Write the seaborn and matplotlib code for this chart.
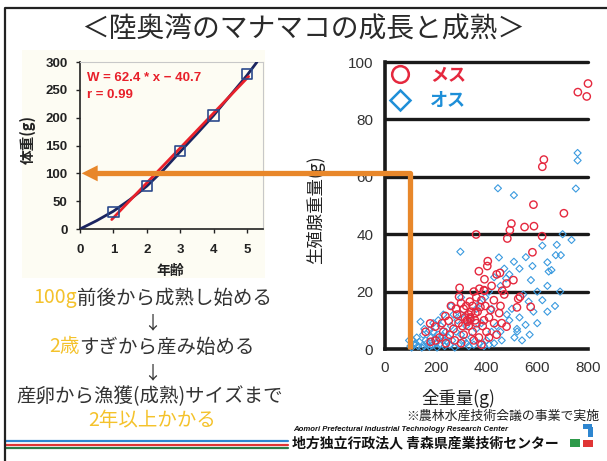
import matplotlib
matplotlib.use("Agg")
import matplotlib.pyplot as plt
import seaborn as sns
from matplotlib.lines import Line2D
from matplotlib.patches import Rectangle, Polygon

# ---- data ----
ages = [1, 2, 3, 4, 5]
mean_weight = [30, 77, 140, 204, 278]
curve_age = [0, 0.5, 1, 1.5, 2, 2.5, 3, 3.5, 4, 4.5, 5, 5.3]
curve_weight = [0, 15, 32, 53, 77, 106, 139, 171, 204, 240, 276, 300]
fit_age = [0.95, 5.05]
fit_weight = [17, 274]
age_ticks = [0, 1, 2, 3, 4, 5]
weight_ticks = [0, 50, 100, 150, 200, 250, 300]

female_x = [760, 795, 800, 626, 620, 585, 705, 498, 492, 550, 587, 482, 581, 619, 359,
            405, 403, 453, 506, 479, 392, 462, 532, 574, 429, 416, 450, 479, 400, 370,
            392, 294, 372, 390, 292, 334, 260, 310, 178, 198, 238, 251, 284, 323, 336,
            356, 376, 350, 380, 420, 440, 360, 300, 320, 340, 330, 345, 310, 360, 370,
            390, 410, 430, 290, 270, 255, 230, 215, 200, 180, 160, 240, 300, 350, 380,
            410, 330, 315, 305, 345, 365, 385, 395, 280, 275, 225, 520, 525, 470, 455,
            460, 440, 325, 335, 355]
female_y = [89.5, 88.0, 92.5, 66.0, 63.5, 50.3, 47.3, 43.7, 41.4, 42.5, 42.8, 38.5, 33.7, 39.3, 39.9,
            30.6, 28.9, 26.5, 24.0, 22.8, 20.3, 20.3, 18.2, 14.7, 17.0, 13.6, 12.5, 7.8, 6.0, 27.1,
            24.3, 21.3, 21.0, 20.5, 18.2, 16.5, 15.0, 14.0, 8.9, 7.8, 11.5, 9.8, 12.0, 10.0, 11.0,
            12.5, 14.6, 20.0, 17.0, 22.0, 26.0, 18.0, 16.0, 15.0, 13.0, 8.0, 6.0, 5.0, 9.0, 4.0,
            10.0, 11.0, 9.0, 9.0, 7.0, 5.0, 6.0, 4.0, 3.0, 2.5, 6.0, 2.0, 2.0, 3.0, 1.5,
            4.0, 12.0, 11.0, 8.0, 15.0, 13.0, 8.0, 15.0, 14.0, 3.0, 9.0, 14.5, 17.5, 19.0, 15.0,
            9.0, 5.0, 9.5, 10.5, 10.0]

male_x = [759, 759, 445, 508, 752, 677, 693, 640, 656, 581, 508, 449, 477, 566, 554,
          521, 297, 645, 673, 620, 700, 735, 690, 670, 640, 600, 570, 530, 510, 500,
          480, 460, 430, 420, 400, 380, 360, 340, 320, 300, 285, 270, 260, 250, 240,
          230, 220, 210, 200, 190, 180, 170, 160, 150, 140, 130, 120, 110, 100, 95,
          105, 115, 125, 135, 145, 155, 165, 175, 185, 195, 205, 215, 225, 235, 245,
          255, 265, 275, 290, 310, 330, 350, 370, 390, 410, 440, 455, 490, 520, 540,
          280, 260, 300, 320, 340, 360, 375, 395, 410, 430, 455, 470, 490, 420, 300,
          210, 230, 190, 175, 155, 600, 620, 585, 575, 640, 545, 555, 530]
male_y = [68.3, 65.7, 56.0, 53.6, 55.9, 36.3, 32.7, 30.2, 27.5, 28.9, 30.4, 31.9, 24.6, 16.5, 8.4,
          6.1, 33.9, 27.0, 32.7, 36.0, 40.0, 38.0, 20.0, 15.0, 13.0, 9.0, 5.0, 11.0, 4.0, 14.0,
          12.0, 3.0, 2.0, 6.0, 3.0, 9.0, 7.0, 4.0, 2.0, 5.0, 10.0, 12.0, 8.0, 4.0, 6.0,
          3.0, 8.0, 5.0, 2.0, 6.0, 4.0, 1.5, 3.0, 5.0, 9.5, 1.0, 2.0, 3.0, 1.0, 3.0,
          0.5, 1.5, 4.0, 2.5, 0.5, 1.0, 2.0, 0.8, 1.2, 3.5, 0.5, 1.5, 4.5, 1.0, 2.5,
          1.5, 3.0, 0.5, 1.5, 3.0, 1.0, 1.5, 2.0, 1.0, 1.5, 8.0, 6.0, 10.0, 7.0, 3.0,
          6.0, 15.0, 12.0, 8.0, 10.0, 14.0, 16.0, 18.0, 20.0, 25.0, 22.0, 28.0, 26.0, 14.0, 18.0,
          10.0, 12.0, 9.0, 6.5, 7.0, 20.0, 17.0, 13.0, 24.0, 22.0, 19.0, 32.0, 28.0]
gonad_ticks = [0, 20, 40, 60, 80, 100]
total_ticks = [0, 100, 200, 300, 400, 500, 600, 700, 800]
maturity_weight = 100

W, H = 607, 461
sns.set_theme(style="white")
plt.rcParams['font.family'] = ['Liberation Sans', 'Noto Sans CJK JP', 'DejaVu Sans']
JP = ['Noto Sans CJK JP', 'DejaVu Sans']
DARK = '#2a2a2a'
YELLOW = '#F4C22B'
ORANGE = '#E8872A'

fig = plt.figure(figsize=(W / 100, H / 100), dpi=100)
fig.patch.set_facecolor('white')


def fx(px):
    return px / W


def fy(py):
    return 1 - py / H


# slide frame and pale panel behind the growth chart
fig.add_artist(Line2D([fx(5), fx(5), fx(610)], [fy(470), fy(8), fy(8)],
                      transform=fig.transFigure, color='#222222', lw=1.6, zorder=20))
fig.patches.append(Rectangle((fx(22), fy(278)), fx(243), (278 - 50) / H,
                             transform=fig.transFigure, fc='#FDFCF3', ec='none', zorder=-5))

fig.text(fx(303), fy(30), '＜陸奥湾のマナマコの成長と成熟＞', ha='center', va='center',
         fontsize=20, color=DARK, family=JP)

# ---- left: growth ----
ax1 = fig.add_axes([fx(80), fy(229), fx(263 - 80), (229 - 62) / H])
ax1.set_facecolor('none')
sns.lineplot(x=curve_age, y=curve_weight, color='#1b2560', lw=2, ax=ax1, zorder=3)
sns.lineplot(x=fit_age, y=fit_weight, color='#E8202A', lw=2, ax=ax1, zorder=4)
sns.scatterplot(x=ages, y=mean_weight, marker='s', s=55, facecolors='none',
                edgecolor='#2B4A8C', linewidth=1.2, ax=ax1, zorder=5)
ax1.set_xlim(0, 5.48)
ax1.set_ylim(0, 300)
ax1.set_xticks(age_ticks)
ax1.set_yticks(weight_ticks)
ax1.tick_params(axis='both', direction='out', length=3, width=1, colors='#222',
                labelsize=9.5, bottom=True, left=True)
ax1.tick_params(axis='y', pad=6)
ax1.tick_params(axis='x', pad=8)
for lab in ax1.get_xticklabels() + ax1.get_yticklabels():
    lab.set_fontweight('bold')
for s in ['left', 'bottom']:
    ax1.spines[s].set_color('#222')
    ax1.spines[s].set_linewidth(1.2)
for s in ['top', 'right']:
    ax1.spines[s].set_color('#c8c8c8')
    ax1.spines[s].set_linewidth(0.8)
ax1.set_xlabel('')
ax1.set_ylabel('')
ax1.text(0.04, 0.905, 'W = 62.4 * x − 40.7', transform=ax1.transAxes, color='#E8202A',
         fontsize=9.5, fontweight='bold', va='center')
ax1.text(0.04, 0.80, 'r = 0.99', transform=ax1.transAxes, color='#E8202A',
         fontsize=9.5, fontweight='bold', va='center')
fig.text(fx(28), fy(140), '体重(g)', rotation=90, ha='center', va='center',
         fontsize=10.5, fontweight='bold', color='#222', family=JP)
fig.text(fx(170), fy(271), '年齢', ha='center', va='center',
         fontsize=10, fontweight='bold', color='#222', family=JP)

# ---- right: gonad vs total weight ----
ax2 = fig.add_axes([fx(385), fy(349), fx(588 - 385), (349 - 62) / H])
ax2.set_facecolor('none')
sns.scatterplot(x=male_x, y=male_y, marker='D', s=13, facecolors='none',
                edgecolor='#3A9ADF', linewidth=0.8, ax=ax2, clip_on=False, zorder=3)
sns.scatterplot(x=female_x, y=female_y, marker='o', s=28, facecolors='none',
                edgecolor='#E5283E', linewidth=1.0, ax=ax2, clip_on=False, zorder=4)
ax2.set_xlim(0, 800)
ax2.set_ylim(0, 100)
for v in gonad_ticks[1:]:
    ax2.axhline(v, color='#1a1a1a', lw=2.4, clip_on=False, zorder=2)
ax2.set_yticks(gonad_ticks)
ax2.set_xticks(total_ticks)
ax2.set_xticklabels([str(t) if t % 200 == 0 else '' for t in total_ticks])
ax2.tick_params(axis='both', direction='inout', length=5, width=2, colors='#1a1a1a',
                labelsize=11, pad=6)
for lab in ax2.get_xticklabels() + ax2.get_yticklabels():
    lab.set_color('#333')
for s in ['top', 'right']:
    ax2.spines[s].set_visible(False)
for s in ['left', 'bottom']:
    ax2.spines[s].set_color('#1a1a1a')
    ax2.spines[s].set_linewidth(2.6)
ax2.set_xlabel('')
ax2.set_ylabel('')
handles = [Line2D([], [], ls='', marker='o', ms=12, mfc='none', mec='#E5283E', mew=1.8),
           Line2D([], [], ls='', marker='D', ms=10, mfc='none', mec='#1E8FD8', mew=1.8)]
leg = ax2.legend(handles, ['メス', 'オス'], loc='upper left', bbox_to_anchor=(-0.07, 1.025),
                 frameon=False, handletextpad=0.7, labelspacing=0.35, borderaxespad=0.2,
                 prop={'family': JP, 'size': 13, 'weight': 'bold'})
for t, c in zip(leg.get_texts(), ['#E5283E', '#1E8FD8']):
    t.set_color(c)
fig.text(fx(316), fy(210), '生殖腺重量(g)', rotation=90, ha='center', va='center',
         fontsize=12.5, color='#222', family=JP)
fig.text(fx(458), fy(398), '全重量(g)', ha='center', va='center',
         fontsize=12.5, color='#222', family=JP)

# ---- orange arrow from 100 g in the scatter to 100 g on the growth curve ----
inv = fig.transFigure.inverted()
p0 = ax2.transData.transform((maturity_weight, 0))
y_line = ax1.transData.transform((0, maturity_weight))[1]
tip = ax1.transData.transform((0.05, maturity_weight))
pts = inv.transform([(p0[0], p0[1]), (p0[0], y_line), (tip[0] + 12, y_line)])
fig.add_artist(Line2D(pts[:, 0], pts[:, 1], transform=fig.transFigure, color=ORANGE,
                      lw=3.8, solid_joinstyle='round', solid_capstyle='butt', zorder=10))
head = inv.transform([(tip[0], y_line), (tip[0] + 16, y_line + 8), (tip[0] + 16, y_line - 8)])
fig.patches.append(Polygon(head, closed=True, transform=fig.transFigure, fc=ORANGE,
                           ec='none', zorder=10))

# ---- message text ----
renderer = fig.canvas.get_renderer()


def colored_line(parts, cx, cy, size=14):
    widths = []
    for txt, col in parts:
        t = fig.text(0, 0, txt, fontsize=size, family=JP)
        widths.append(t.get_window_extent(renderer).width)
        t.remove()
    x = cx - sum(widths) / 2
    for (txt, col), w in zip(parts, widths):
        fig.text(fx(x), fy(cy), txt, fontsize=size, family=JP, color=col,
                 ha='left', va='center')
        x += w


colored_line([('100g', YELLOW), ('前後から成熟し始める', '#333')], 153, 298)
fig.text(fx(152), fy(323), '↓', ha='center', va='center', fontsize=13, color='#333', family=JP)
colored_line([('2歳', YELLOW), ('すぎから産み始める', '#333')], 152, 347)
fig.text(fx(152), fy(373), '↓', ha='center', va='center', fontsize=13, color='#333', family=JP)
colored_line([('産卵から漁獲(成熟)サイズまで', '#333')], 150, 397)
colored_line([('2年以上かかる', YELLOW)], 152, 420)

# ---- footer ----
for yy, col in [(441, '#2E86D0'), (444.5, '#E03535'), (448, '#2E7D4A')]:
    fig.add_artist(Line2D([fx(5), fx(288)], [fy(yy), fy(yy)], transform=fig.transFigure,
                          color=col, lw=1.6))
fig.text(fx(406), fy(416), '※農林水産技術会議の事業で実施', ha='left', va='center',
         fontsize=9.3, color='#222', family=JP)
fig.text(fx(293), fy(429), 'Aomori Prefectural Industrial Technology Research Center',
         ha='left', va='center', fontsize=5.6, style='italic', fontweight='bold', color='#111')
fig.text(fx(292), fy(443), '地方独立行政法人 青森県産業技術センター', ha='left', va='center',
         fontsize=10, fontweight='bold', color='#111', family=JP)
for (x0, y0, w, h, col) in [(583, 424, 9, 5, '#2E86D0'), (588, 427, 5, 10, '#2E86D0'),
                            (570, 439, 10, 8, '#2E9A4A'), (583, 440, 10, 7, '#E03535')]:
    fig.patches.append(Rectangle((fx(x0), fy(y0 + h)), w / W, h / H,
                                 transform=fig.transFigure, fc=col, ec='none'))

fig.savefig('out.png', dpi=100)
